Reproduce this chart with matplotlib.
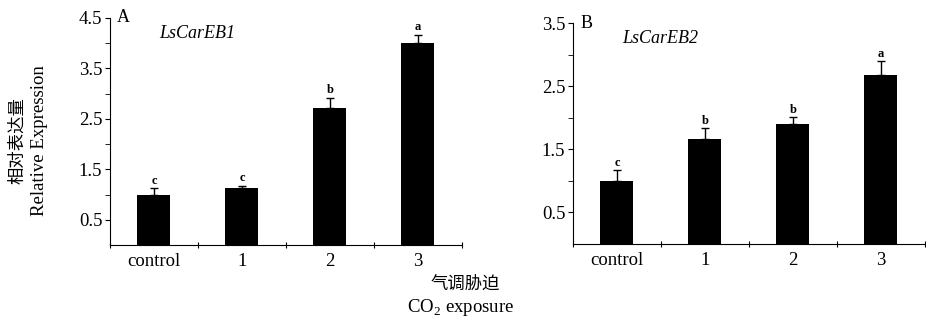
import numpy as np
import matplotlib.pyplot as plt

plt.rcParams['font.family'] = ['Liberation Serif', 'Noto Sans CJK SC']
plt.rcParams['mathtext.fontset'] = 'custom'
plt.rcParams['mathtext.rm'] = 'Liberation Serif'

categories = ['control', '1', '2', '3']

# panel A: LsCarEB1
vals_a = [1.00, 1.13, 2.72, 4.01]
err_a = [0.13, 0.05, 0.20, 0.16]
sig_a = ['c', 'c', 'b', 'a']

# panel B: LsCarEB2
vals_b = [1.00, 1.66, 1.90, 2.67]
err_b = [0.17, 0.18, 0.11, 0.23]
sig_b = ['c', 'b', 'b', 'a']

fig = plt.figure(figsize=(9.26, 3.2), dpi=100)
ax_a = fig.add_axes([0.1188, 0.234, 0.380, 0.710])
ax_b = fig.add_axes([0.6188, 0.2375, 0.380, 0.6905])


def draw_panel(ax, vals, errs, sig, ymax, letter, gene):
    x = np.arange(len(categories))
    ax.bar(x, vals, width=0.375, color='black', zorder=2)
    ax.errorbar(x, vals, yerr=[np.zeros(len(vals)), errs], fmt='none',
                ecolor='black', elinewidth=1, capsize=3, capthick=1, zorder=3)
    for xi, v, e, s in zip(x, vals, errs, sig):
        ax.text(xi, v + e + ymax * 0.006, s, ha='center', va='bottom',
                fontsize=9, fontweight='bold')
    ax.set_xlim(-0.5, 3.5)
    ax.set_ylim(0, ymax)
    ax.spines['top'].set_visible(False)
    ax.spines['right'].set_visible(False)
    ax.set_yticks(np.arange(0.5, ymax + 0.01, 1.0))
    ax.set_yticks(np.arange(1.0, ymax, 1.0), minor=True)
    ax.tick_params(axis='y', which='both', direction='out', length=3.5,
                   labelsize=13.5, pad=2)
    ax.set_xticks(np.arange(-0.5, 3.6, 1.0))
    ax.set_xticklabels([])
    ax.set_xticks(x, minor=True)
    ax.set_xticklabels(categories, minor=True)
    ax.tick_params(axis='x', which='major', direction='inout', length=5)
    ax.tick_params(axis='x', which='minor', length=0, labelsize=13.5, pad=6)
    ax.text(0.02, 1.0, letter, transform=ax.transAxes, ha='left', va='center',
            fontsize=13)
    ax.text(0.14, 0.93, gene, transform=ax.transAxes, ha='left', va='center',
            fontsize=13, style='italic')


draw_panel(ax_a, vals_a, err_a, sig_a, 4.5, 'A', 'LsCarEB1')
draw_panel(ax_b, vals_b, err_b, sig_b, 3.5, 'B', 'LsCarEB2')

fig.text(0.019, 0.56, '相对表达量', rotation=90, ha='center', va='center',
         fontsize=12.5)
fig.text(0.043, 0.56, 'Relative Expression', rotation=90, ha='center',
         va='center', fontsize=13.5)
fig.text(0.503, 0.11, '气调胁迫', ha='center', va='center', fontsize=12.5)
fig.text(0.497, 0.04, 'CO$_2$ exposure', ha='center', va='center',
         fontsize=13.5)

fig.savefig('out.png', dpi=100)
